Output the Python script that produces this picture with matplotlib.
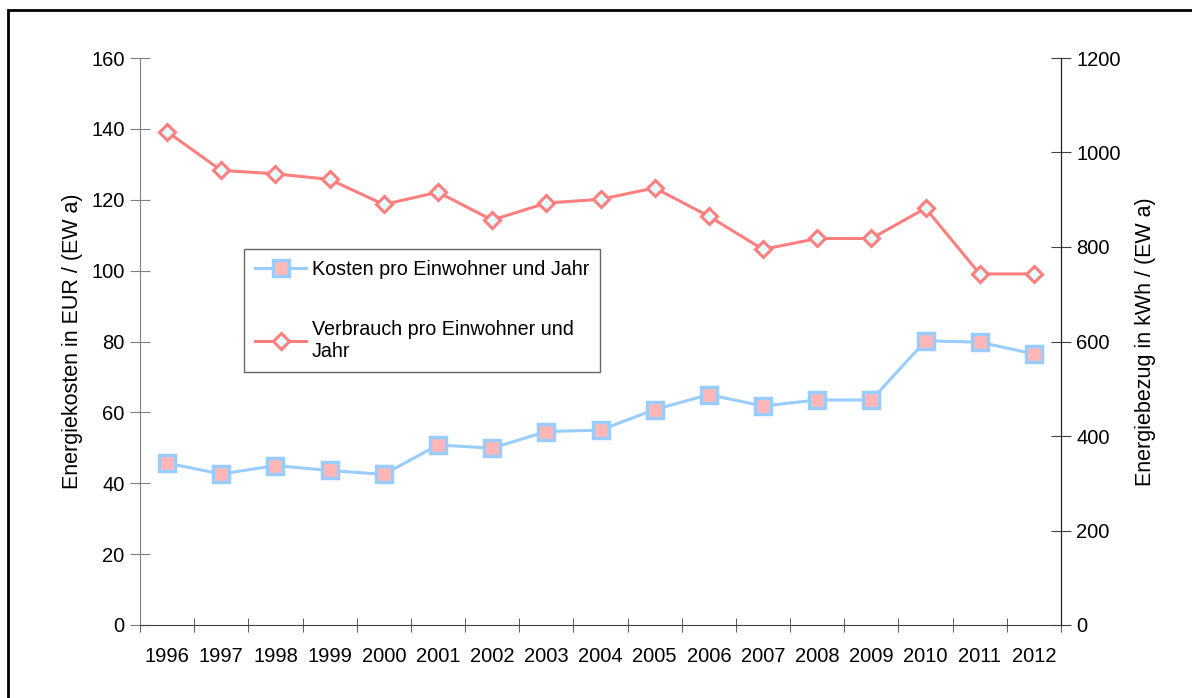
import matplotlib.pyplot as plt
from matplotlib.patches import Rectangle

plt.rcParams['font.family'] = ['Liberation Sans', 'DejaVu Sans']
plt.rcParams['font.size'] = 14.5

years = ['1996', '1997', '1998', '1999', '2000', '2001', '2002', '2003', '2004',
         '2005', '2006', '2007', '2008', '2009', '2010', '2011', '2012']
kosten = [45.7, 42.6, 45.0, 43.6, 42.5, 50.8, 49.9, 54.6, 55.0,
          60.8, 65.0, 61.8, 63.5, 63.5, 80.2, 79.8, 76.5]
verbrauch = [1044, 962, 955, 943, 890, 916, 857, 893, 901,
             925, 865, 795, 818, 818, 882, 743, 743]

fig = plt.figure(figsize=(11.92, 6.98), dpi=100)

# outer frame (only top and left edge visible in the original)
fig.patches.append(Rectangle((8 / 1192, -0.1), 1.2, 0.1 + (698 - 10) / 698,
                             transform=fig.transFigure, fill=False,
                             edgecolor='black', linewidth=2))

ax = fig.add_axes([140 / 1192, 73 / 698, 921 / 1192, 567 / 698])
ax2 = ax.twinx()

x = list(range(len(years)))
l1, = ax.plot(x, kosten, color='#99ccff', linewidth=2.2, marker='s', markersize=11,
              markerfacecolor='#ffb6b6', markeredgecolor='#99ccff', markeredgewidth=2.5,
              label='Kosten pro Einwohner und Jahr', zorder=3)
l2, = ax2.plot(x, verbrauch, color='#ff7f7f', linewidth=2.2, marker='D', markersize=8,
               markerfacecolor='#e6ffff', markeredgecolor='#ff7f7f', markeredgewidth=2.2,
               label='Verbrauch pro Einwohner und\nJahr', zorder=3)

ax.set_xlim(-0.5, len(years) - 0.5)
ax.set_ylim(0, 160)
ax2.set_ylim(0, 1200)
ax.set_yticks(range(0, 161, 20))
ax2.set_yticks(range(0, 1201, 200))
ax.set_xticks(x)
ax.set_xticklabels(years)
ax.set_xticks([i - 0.5 for i in range(len(years) + 1)], minor=True)
ax.tick_params(axis='x', which='major', length=0, pad=16)
ax.tick_params(axis='x', which='minor', direction='inout', length=10, color='#404040')
ax.tick_params(axis='y', direction='inout', length=14, color='#808080', pad=4)
ax2.tick_params(axis='y', direction='inout', length=14, color='#404040', pad=4)

for a in (ax, ax2):
    a.spines['top'].set_visible(False)
ax.spines['left'].set_color('#808080')
ax.spines['bottom'].set_color('#404040')
ax2.spines['left'].set_visible(False)
ax2.spines['bottom'].set_visible(False)
ax2.spines['right'].set_color('#202020')

ax.set_ylabel('Energiekosten in EUR / (EW a)', fontsize=15.5, labelpad=6)
ax2.set_ylabel('Energiebezug in kWh / (EW a)', fontsize=15.5, labelpad=10)

leg = ax2.legend([l1, l2], [l1.get_label(), l2.get_label()],
                 loc='upper left', bbox_to_anchor=(0.113, 0.663),
                 frameon=True, fancybox=False, handlelength=2.6,
                 labelspacing=2.1, borderpad=0.55, handletextpad=0.3,
                 borderaxespad=0, prop={'size': 14.2})
leg.get_frame().set_edgecolor('#404040')
leg.get_frame().set_linewidth(1.0)

fig.savefig('out.png', dpi=100)
